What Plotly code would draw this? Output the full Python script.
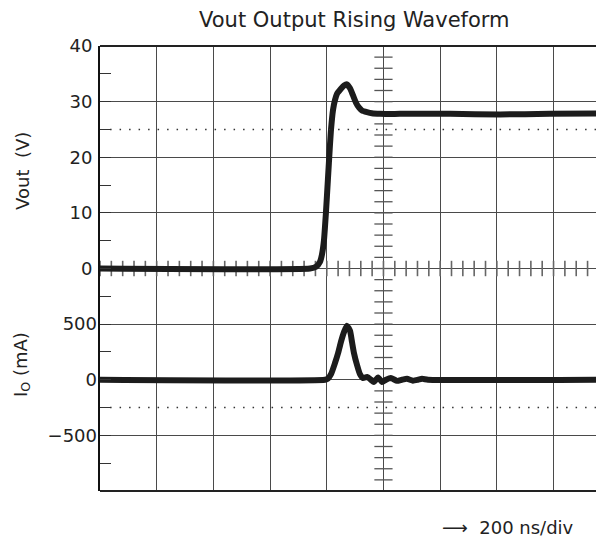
import plotly.graph_objects as go

# ---- data (time in ns, 200 ns/div) ----
vout_t = [0, 741, 762, 776, 783, 790, 797, 804, 811, 815, 822, 829, 836, 850, 861,
          871, 882, 892, 903, 914, 924, 942, 959, 988, 1058, 1235, 1411, 1587, 1778]
vout_v = [0, 0, 0.3, 1.2, 2.5, 5, 10, 16, 22, 25, 28.5, 30.3, 31.4, 32.3, 32.9,
          33.1, 32.4, 31.2, 29.8, 28.9, 28.4, 28.1, 27.9, 27.8, 27.8, 27.8, 27.7, 27.8, 27.9]

io_t = [0, 794, 804, 815, 829, 840, 850, 861, 871, 882, 889, 896, 907, 917, 928,
        942, 956, 966, 981, 995, 1009, 1026, 1048, 1065, 1083, 1104, 1122, 1136, 1157, 1778]
io_ma = [0, 0, 10, 50, 150, 240, 340, 430, 485, 440, 340, 240, 130, 50, 15,
         25, 0, -20, 20, -20, 0, 15, -10, 0, 8, -8, 0, 8, 0, 0]

vout_ticks = [0, 10, 20, 30, 40]
io_ticks = [-500, 0, 500]
io_tick_text = ["\u2212500", "0", "500"]
vout_dotted = 25
io_dotted = -250

X_MAX = 1778
DIV_NS = 200
CENTER_NS = 1000

FONT = "DejaVu Sans, Liberation Sans, Arial, sans-serif"
INK = "#1c1c1c"
GRID = "#4a4a4a"

fig = go.Figure()

# center-line minor ticks (vertical center line, every 1/5 div)
fig.add_trace(go.Scatter(
    x=[CENTER_NS] * 41, y=[-40 + 2 * i for i in range(41)], mode="markers",
    marker=dict(symbol="line-ew", size=13, line=dict(width=1.3, color="#555")),
    hoverinfo="skip", showlegend=False, yaxis="y"))
# horizontal center-line ticks
n_h = int(X_MAX / 40) + 1
fig.add_trace(go.Scatter(
    x=[40 * i for i in range(n_h)], y=[0] * n_h, mode="markers",
    marker=dict(symbol="line-ns", size=11, line=dict(width=1.6, color="#666")),
    hoverinfo="skip", showlegend=False, yaxis="y"))

fig.add_trace(go.Scatter(
    x=vout_t, y=vout_v, mode="lines", yaxis="y",
    line=dict(color=INK, width=6, shape="spline", smoothing=0.5),
    showlegend=False, hoverinfo="skip"))
fig.add_trace(go.Scatter(
    x=io_t, y=io_ma, mode="lines", yaxis="y2",
    line=dict(color=INK, width=6, shape="spline", smoothing=0.5),
    showlegend=False, hoverinfo="skip"))

fig.update_layout(
    width=596, height=531,
    margin=dict(l=92, r=0, t=38, b=48),
    paper_bgcolor="white", plot_bgcolor="white",
    font=dict(family=FONT, size=18, color="#222"),
    xaxis=dict(range=[0, X_MAX], tick0=0, dtick=DIV_NS, showgrid=True,
               gridcolor=GRID, gridwidth=1, showticklabels=False, ticks="",
               zeroline=False, showline=False),
    yaxis=dict(range=[-40, 40], tickmode="array", tickvals=vout_ticks,
               showgrid=True, gridcolor=GRID, gridwidth=1, zeroline=False,
               showline=True, linecolor="#111", linewidth=2, ticks="",
               ticklabelstandoff=2,
               minor=dict(tick0=0, dtick=5, ticks="inside", ticklen=11,
                          tickcolor="#333", tickwidth=1, showgrid=False)),
    yaxis2=dict(range=[-1000, 3000], overlaying="y", side="left",
                tickmode="array", tickvals=io_ticks, ticktext=io_tick_text,
                showgrid=True, gridcolor=GRID, gridwidth=1,
                zeroline=False, showline=False, ticks="",
                ticklabelstandoff=2),
    shapes=[
        dict(type="line", xref="paper", yref="paper", x0=0, x1=1, y0=1, y1=1,
             line=dict(color="#222", width=2)),
        dict(type="line", xref="paper", yref="paper", x0=0, x1=1, y0=0, y1=0,
             line=dict(color="#222", width=2)),
        dict(type="line", xref="paper", yref="y", x0=0.02, x1=1, y0=vout_dotted, y1=vout_dotted,
             line=dict(color="#333", width=1.5, dash="1.5px,8px")),
        dict(type="line", xref="paper", yref="y2", x0=0.02, x1=1, y0=io_dotted, y1=io_dotted,
             line=dict(color="#333", width=1.5, dash="1.5px,8px")),
    ],
    annotations=[
        dict(text="Vout Output Rising Waveform", xref="paper", yref="paper",
             x=0.505, y=1.058, xanchor="center", yanchor="middle", showarrow=False,
             font=dict(size=21, color="#222")),
        dict(text="Vout  (V)", xref="paper", yref="paper", x=-0.155, y=0.719,
             textangle=-90, xanchor="center", yanchor="middle", showarrow=False,
             font=dict(size=18, color="#222")),
        dict(text="I<sub>O</sub> (mA)", xref="paper", yref="paper", x=-0.155, y=0.285,
             textangle=-90, xanchor="center", yanchor="middle", showarrow=False,
             font=dict(size=18, color="#222")),
        dict(text="\u27f6  200 ns/div", xref="paper", yref="paper", x=0.675, y=-0.081,
             xanchor="left", yanchor="middle", showarrow=False,
             font=dict(size=18, color="#222")),
    ],
)

fig.write_html("out.html")
